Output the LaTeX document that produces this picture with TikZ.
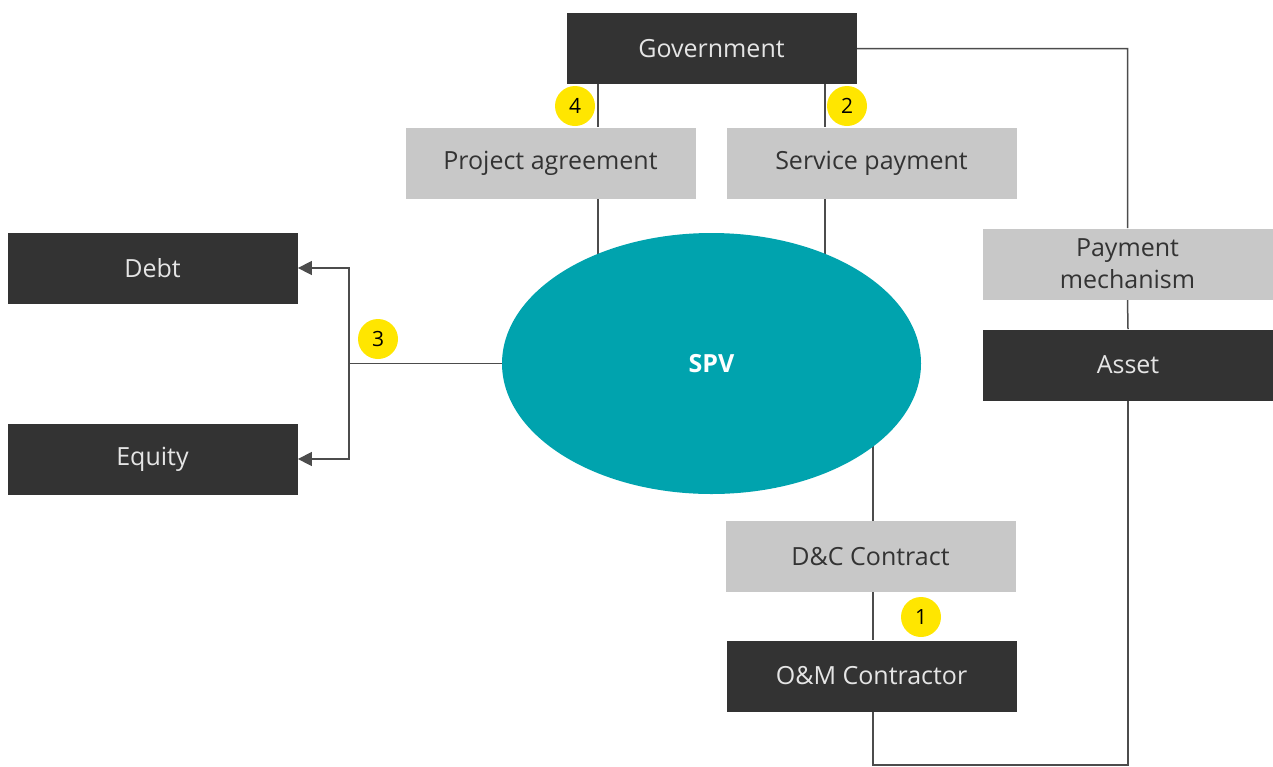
\documentclass[tikz,border=0pt]{standalone}
\usepackage{fontspec}
\setmainfont{Open Sans}
\usetikzlibrary{arrows.meta,shapes.geometric,backgrounds}
\definecolor{eydark}{HTML}{333333}
\definecolor{eygrey}{HTML}{C8C8C8}
\definecolor{eyteal}{HTML}{00A3AE}
\definecolor{eyyellow}{HTML}{FFE600}

\begin{document}
\begin{tikzpicture}[x=.5pt,y=-.5pt,
  darkbox/.style={fill=eydark,text=white!90!black,minimum width=145pt,minimum height=35.5pt,inner sep=0pt,align=center,font=\fontsize{12.5}{16}\selectfont},
  greybox/.style={darkbox,fill=eygrey,text=eydark},
  badge/.style={circle,fill=eyyellow,minimum size=20pt,inner sep=0pt,font=\fontsize{10.5}{12}\selectfont},
  link/.style={draw=black!70,line width=.75pt}]
\useasboundingbox (0,0) rectangle (1273,766);
\node[darkbox] (gov) at (711.5,48.5) {Government};
\node[greybox] (pa) at (550.5,163) {Project agreement};
\node[greybox] (sp) at (871.5,163) {Service payment};
\node[darkbox] (debt) at (152.5,268) {Debt};
\node[darkbox] (equity) at (152.5,459) {Equity};
\node[ellipse,fill=eyteal,inner sep=0pt,minimum width=209.5pt,minimum height=130.5pt,text=white,font=\fontsize{12.5}{14}\selectfont\bfseries] (spv) at (711.5,363.5) {SPV};
\node[greybox] (pm) at (1127.5,264) {Payment\\mechanism};
\node[darkbox] (asset) at (1128,365) {Asset};
\node[greybox] (dc) at (870.5,556.5) {D\&C Contract};
\node[darkbox] (om) at (871.5,676) {O\&M Contractor};
\foreach \n/\x/\y in {4/575/106,2/847/106,3/378/339,1/921/617}{\node[badge] (b\n) at (\x,\y) {\n};}
% connectors
\coordinate (l4) at (598,0);\coordinate (l2) at (825,0);\coordinate (l1) at (873,0);
\coordinate (fork) at (349,363.5);\coordinate (base) at (873,765);
\begin{scope}[on background layer]
\draw[link] (gov.south -| l4)--(pa.north -| l4) (pa.south -| l4)--(spv.center -| l4);
\draw[link] (gov.south -| l2)--(sp.north -| l2) (sp.south -| l2)--(spv.center -| l2);
\draw[link] (spv.center -| l1)--(dc.north -| l1) (dc.south -| l1)--(om.north -| l1);
\draw[link] (gov.east)-|(pm.north) (pm.south)--(asset.north);
\draw[link] (asset.south)|-(base)--(om.south -| base);
\draw[link] (spv.west)--(fork);
\draw[link,-{Triangle[length=7pt,width=7pt]}] (fork)|-(debt.east);
\draw[link,-{Triangle[length=7pt,width=7pt]}] (fork)|-(equity.east);
\end{scope}
\end{tikzpicture}
\end{document}
